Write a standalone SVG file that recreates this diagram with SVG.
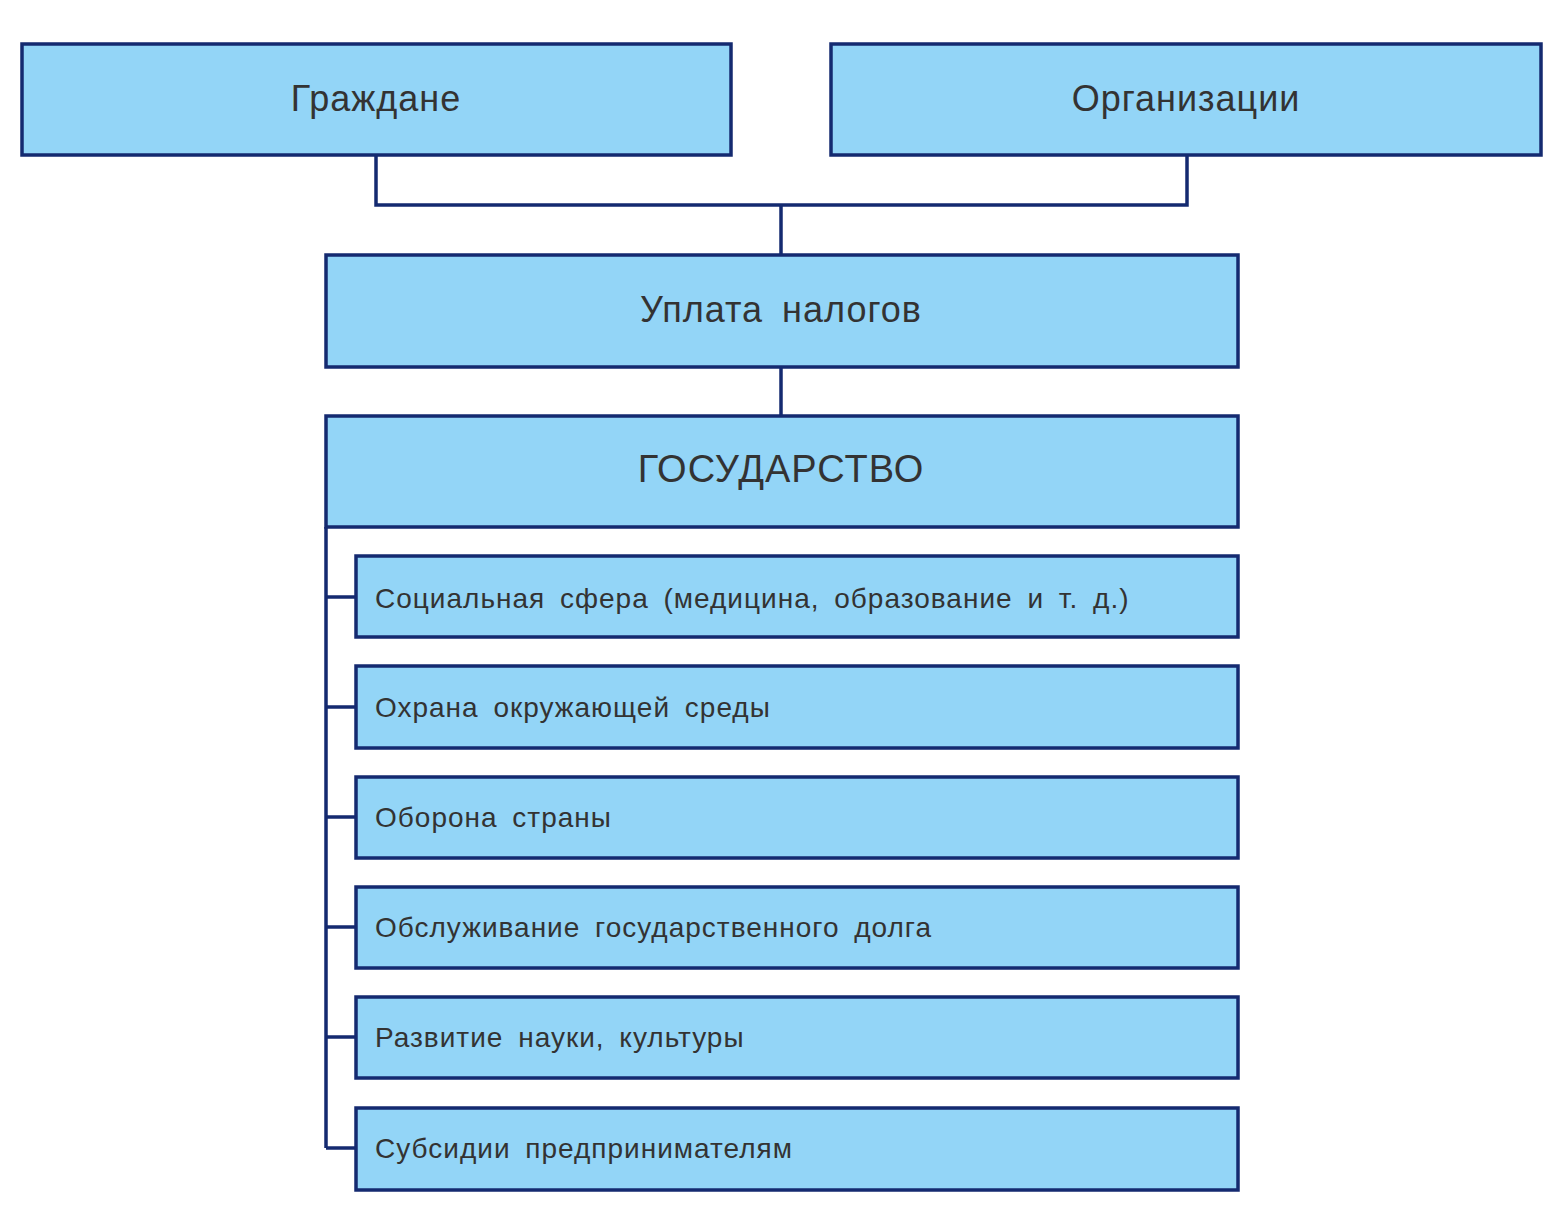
<svg xmlns="http://www.w3.org/2000/svg" width="1565" height="1225" viewBox="0 0 1565 1225">
<style>
.b{fill:#93d5f7;stroke:#142a70;stroke-width:3.5}
.c{fill:none;stroke:#142a70;stroke-width:3.5}
text{font-family:"Liberation Sans",Arial,sans-serif;fill:#333;}
.t{font-size:36px;text-anchor:middle;letter-spacing:1px}
.s{font-size:28px;letter-spacing:1px;word-spacing:6px}
</style>
<rect width="1565" height="1225" fill="#fff"/>
<g id="connectors" class="c">
<path d="M376 155V205H1187V155M781 205V255M781 367V416M326 527V1148"/>
<path d="M326 597H356M326 707H356M326 817H356M326 927H356M326 1037H356M326 1148H356"/>
</g>
<g id="n1"><rect class="b" x="22" y="44" width="709" height="111"/><text class="t" x="376" y="111">Граждане</text></g>
<g id="n2"><rect class="b" x="831" y="44" width="710" height="111"/><text class="t" x="1186" y="111">Организации</text></g>
<g id="n3"><rect class="b" x="326" y="255" width="912" height="112"/><text class="t" x="781" y="322" style="word-spacing:8px">Уплата налогов</text></g>
<g id="n4"><rect class="b" x="326" y="416" width="912" height="111"/><text class="t" x="781" y="482" style="font-size:38px">ГОСУДАРСТВО</text></g>
<g id="c1"><rect class="b" x="356" y="556" width="882" height="81"/><text class="s" x="375" y="608">Социальная сфера (медицина, образование и т. д.)</text></g>
<g id="c2"><rect class="b" x="356" y="666" width="882" height="82"/><text class="s" x="375" y="717">Охрана окружающей среды</text></g>
<g id="c3"><rect class="b" x="356" y="777" width="882" height="81"/><text class="s" x="375" y="827">Оборона страны</text></g>
<g id="c4"><rect class="b" x="356" y="887" width="882" height="81"/><text class="s" x="375" y="937">Обслуживание государственного долга</text></g>
<g id="c5"><rect class="b" x="356" y="997" width="882" height="81"/><text class="s" x="375" y="1047">Развитие науки, культуры</text></g>
<g id="c6"><rect class="b" x="356" y="1108" width="882" height="82"/><text class="s" x="375" y="1158">Субсидии предпринимателям</text></g>
</svg>
